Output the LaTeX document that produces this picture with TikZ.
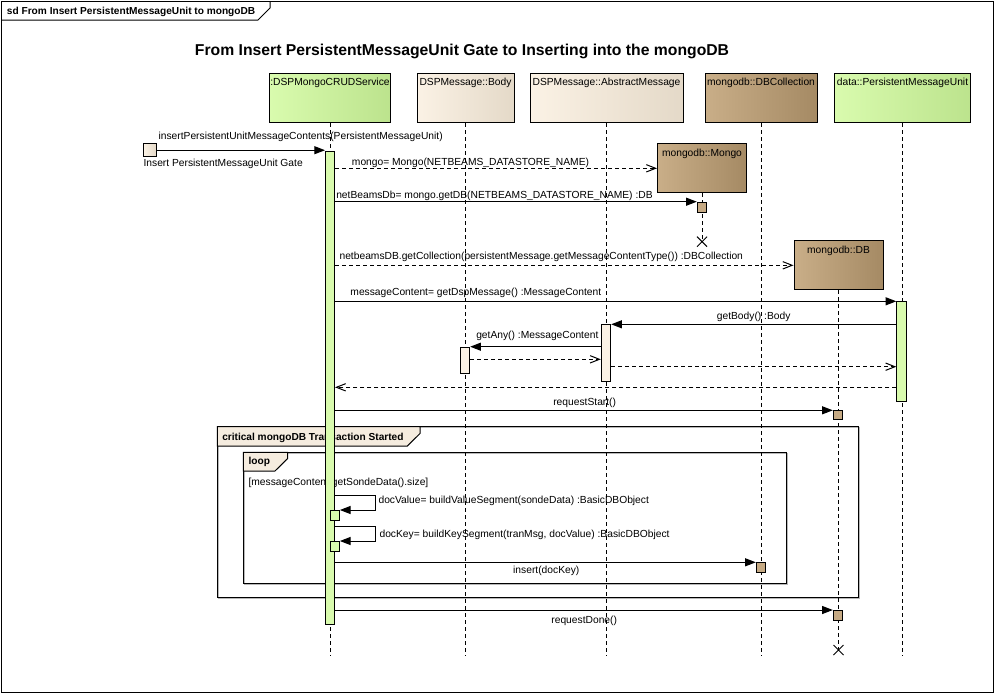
\documentclass[tikz,border=0pt]{standalone}
\usepackage{fontspec}
\setmainfont{Liberation Sans}
\usetikzlibrary{arrows.meta}
\newcommand{\upx}{0.75pt}
\definecolor{crudlight}{HTML}{D9FBAE}
\definecolor{cruddark}{HTML}{BCE38D}
\definecolor{msglight}{HTML}{FBF2E5}
\definecolor{msgdark}{HTML}{E4D9C8}
\definecolor{mongolight}{HTML}{C9AE88}
\definecolor{mongodark}{HTML}{A58A64}
\definecolor{mongobox}{HTML}{C6AA84}
\definecolor{tabfill}{HTML}{F5ECDF}
\definecolor{fragshade}{HTML}{B8B8B8}

\begin{document}
\begin{tikzpicture}[
  x=0.75pt,
  y=-0.75pt,
  every node/.style={font=\fontsize{7.7}{9}\selectfont, inner sep=0pt, black},
  head/.style={draw=black, line width=0.75pt, anchor=north, minimum height=49*\upx},
  greenhead/.style={head, left color=crudlight, right color=cruddark},
  beigehead/.style={head, left color=msglight, right color=msgdark},
  brownhead/.style={head, left color=mongolight, right color=mongodark},
  headlbl/.style={anchor=base},
  act/.style={draw=black, line width=0.75pt, anchor=north, minimum width=9.4*\upx},
  greenact/.style={act, fill=crudlight},
  beigeact/.style={act, fill=msglight},
  brownact/.style={act, fill=mongobox},
  life/.style={line width=0.75pt, dash pattern=on 3pt off 2.25pt},
  call/.style={line width=0.75pt, -{Triangle[length=8pt, width=6pt]}},
  reply/.style={line width=0.75pt, dash pattern=on 3pt off 2.25pt,
    -{Straight Barb[length=7pt, width=5.5pt]}},
  msglbl/.style={anchor=base west},
  boldlbl/.style={anchor=base west, font=\fontsize{7.6}{9}\selectfont\bfseries},
  frag/.style={line width=0.75pt},
  tab/.style={line width=0.75pt, fill=tabfill}
]
  % ---- diagram frame -----------------------------------------------------
  \useasboundingbox (0,0) rectangle (996,694);
  \draw[frag, fill=white] (1.5,1.5) rectangle (993.5,692.5);
  \draw[frag] (1.5,20) -- (258,20) -- (270,8) -- (270,1.5);
  \node[boldlbl] (sdlbl) at (6.7,14.7) {sd From Insert PersistentMessageUnit to mongoDB};
  \node[anchor=base west, font=\fontsize{11.8}{14}\selectfont\bfseries] (title)
    at (194.7,55) {From Insert PersistentMessageUnit Gate to Inserting into the mongoDB};

  % ---- combined fragments ------------------------------------------------
  \draw[fragshade, line width=0.75pt] (218.5,427.9) rectangle (859.5,598.5);
  \draw[frag] (217.3,426.7) rectangle (858.3,597.3);
  \draw[tab] (217.3,426.7) -- (217.3,446) -- (407.3,446) -- (420,433.5) -- (420,426.7) -- cycle;
  \node[boldlbl] (critlbl) at (222,440) {critical mongoDB Transaction Started};

  \draw[fragshade, line width=0.75pt] (244.5,453.5) rectangle (787.2,584.2);
  \draw[frag] (243.3,452.3) rectangle (786,583);
  \draw[tab] (243.3,452.3) -- (243.3,471) -- (275,471) -- (287.7,458.5) -- (287.7,452.3) -- cycle;
  \node[boldlbl] (looplbl) at (248.3,464.3) {loop};
  \node[msglbl] (guard) at (248.3,485) {[messageContent.getSondeData().size]};

  % ---- lifeline heads ----------------------------------------------------
  \node[greenhead, minimum width=121*\upx] (crud) at (330,73) {};
  \node[beigehead, minimum width=97*\upx] (body) at (465.5,73) {};
  \node[beigehead, minimum width=153*\upx] (abstr) at (606.5,73) {};
  \node[brownhead, minimum width=112*\upx] (coll) at (761,73) {};
  \node[greenhead, minimum width=136*\upx] (pmu) at (902.5,73) {};
  \node[brownhead, minimum width=89*\upx] (mongo) at (702,143.3) {};
  \node[brownhead, minimum width=89*\upx] (db) at (838.5,240.3) {};

  \node[headlbl] (crudlbl) at ([yshift=-12.7*\upx]crud.north) {:DSPMongoCRUDService};
  \node[headlbl] (bodylbl) at ([yshift=-12.7*\upx]body.north) {DSPMessage::Body};
  \node[headlbl] (abstrlbl) at ([yshift=-12.7*\upx]abstr.north) {DSPMessage::AbstractMessage};
  \node[headlbl] (colllbl) at ([yshift=-12.7*\upx]coll.north) {mongodb::DBCollection};
  \node[headlbl] (pmulbl) at ([yshift=-12.7*\upx]pmu.north) {data::PersistentMessageUnit};
  \node[headlbl] (mongolbl) at ([yshift=-12.7*\upx]mongo.north) {mongodb::Mongo};
  \node[headlbl] (dblbl) at ([yshift=-12.7*\upx]db.north) {mongodb::DB};

  % ---- lifelines ---------------------------------------------------------
  \coordinate (lend) at (0,655.7);
  \coordinate (mongoX) at (702,241.7);
  \coordinate (dbX) at (838.5,650);
  \draw[life] (crud.south) -- (crud.south |- lend);
  \draw[life] (body.south) -- (body.south |- lend);
  \draw[life] (abstr.south) -- (abstr.south |- lend);
  \draw[life] (coll.south) -- (coll.south |- lend);
  \draw[life] (pmu.south) -- (pmu.south |- lend);
  \draw[life] (mongo.south) -- (mongoX);
  \draw[life] (db.south) -- (dbX);
  \draw[line width=0.75pt] ([shift={(-5,-5)}]mongoX) -- ([shift={(5,5)}]mongoX)
    ([shift={(-5,5)}]mongoX) -- ([shift={(5,-5)}]mongoX);
  \draw[line width=0.75pt] ([shift={(-5,-5)}]dbX) -- ([shift={(5,5)}]dbX)
    ([shift={(-5,5)}]dbX) -- ([shift={(5,-5)}]dbX);

  % ---- activations -------------------------------------------------------
  \node[greenact, minimum width=9*\upx, minimum height=473.6*\upx] (crudAct) at (330,150.7) {};
  \node[brownact, minimum height=10*\upx] (mongoAct) at (702,201.7) {};
  \node[greenact, minimum height=100*\upx] (pmuAct) at (901.5,301.3) {};
  \node[beigeact, minimum height=56.4*\upx] (abstrAct) at (606,324.3) {};
  \node[beigeact, minimum height=26.6*\upx] (bodyAct) at (465,346.7) {};
  \node[brownact, minimum height=9*\upx] (dbAct) at (838,410.3) {};
  \node[greenact, minimum height=10*\upx] (selfAct) at (334.7,510) {};
  \node[greenact, minimum height=10.3*\upx] (keyAct) at (334.7,541) {};
  \node[brownact, minimum height=9.4*\upx] (collAct) at (761,562.3) {};
  \node[brownact, minimum height=9.7*\upx] (doneAct) at (838,610) {};

  % ---- gate --------------------------------------------------------------
  \node[draw=black, line width=0.75pt, left color=msglight, right color=msgdark,
    minimum size=12.7*\upx] (gate) at (149.7,150.2) {};
  \node[msglbl] (gatelbl) at (143.3,166.7) {Insert PersistentMessageUnit Gate};

  % ---- messages ----------------------------------------------------------
  \coordinate (valTurn) at (375.3,495.7);
  \coordinate (keyTurn) at (375.3,526.3);
  \coordinate (backAny) at (0,359.3);
  \coordinate (backBody) at (0,366.7);
  \coordinate (backMsg) at (0,387.3);

  \draw[call] (gate.east) -- (gate.east -| crudAct.west);
  \draw[reply] (crudAct.east |- mongo.west) -- (mongo.west);
  \draw[call] (crudAct.east |- mongoAct.north) -- (mongoAct.north west);
  \draw[reply] (crudAct.east |- db.west) -- (db.west);
  \draw[call] (crudAct.east |- pmuAct.north) -- (pmuAct.north west);
  \draw[call] (pmuAct.west |- abstrAct.north) -- (abstrAct.north east);
  \draw[call] (abstrAct.west |- bodyAct.north) -- (bodyAct.north east);
  \draw[reply] (bodyAct.east |- backAny) -- (abstrAct.west |- backAny);
  \draw[reply] (abstrAct.east |- backBody) -- (pmuAct.west |- backBody);
  \draw[reply] (pmuAct.west |- backMsg) -- (crudAct.east |- backMsg);
  \draw[call] (crudAct.east |- dbAct.north) -- (dbAct.north west);
  \draw[call] (crudAct.east |- valTurn) -- (valTurn) |- (selfAct.north east);
  \draw[call] (crudAct.east |- keyTurn) -- (keyTurn) |- (keyAct.north east);
  \draw[call] (crudAct.east |- collAct.north) -- (collAct.north west);
  \draw[call] (crudAct.east |- doneAct.north) -- (doneAct.north west);

  % ---- message labels ----------------------------------------------------
  \node[msglbl] (insertlbl) at (158.3,139.3) {insertPersistentUnitMessageContents(PersistentMessageUnit)};
  \node[msglbl] (mongonew) at (351.7,165.5) {mongo= Mongo(NETBEAMS\_DATASTORE\_NAME)};
  \node[msglbl] (getdb) at (336,198.7) {netBeamsDb= mongo.getDB(NETBEAMS\_DATASTORE\_NAME) :DB};
  \node[msglbl] (getcoll) at (339.3,259.5)
    {netbeamsDB.getCollection(persistentMessage.getMessageContentType()) :DBCollection};
  \node[msglbl] (getdsp) at (350.2,295.3) {messageContent= getDspMessage() :MessageContent};
  \node[msglbl] (getbody) at (716.6,319.7) {getBody() :Body};
  \node[msglbl] (getany) at (476,338) {getAny() :MessageContent};
  \node[anchor=base] (startlbl) at (584.7,405.7) {requestStart()};
  \node[msglbl] (vallbl) at (378.3,503.3) {docValue= buildValueSegment(sondeData) :BasicDBObject};
  \node[msglbl] (keylbl) at (379.3,537.7) {docKey= buildKeySegment(tranMsg, docValue) :BasicDBObject};
  \node[anchor=base] (insdoc) at (546.3,573.7) {insert(docKey)};
  \node[anchor=base] (donelbl) at (584.2,623) {requestDone()};
\end{tikzpicture}
\end{document}
